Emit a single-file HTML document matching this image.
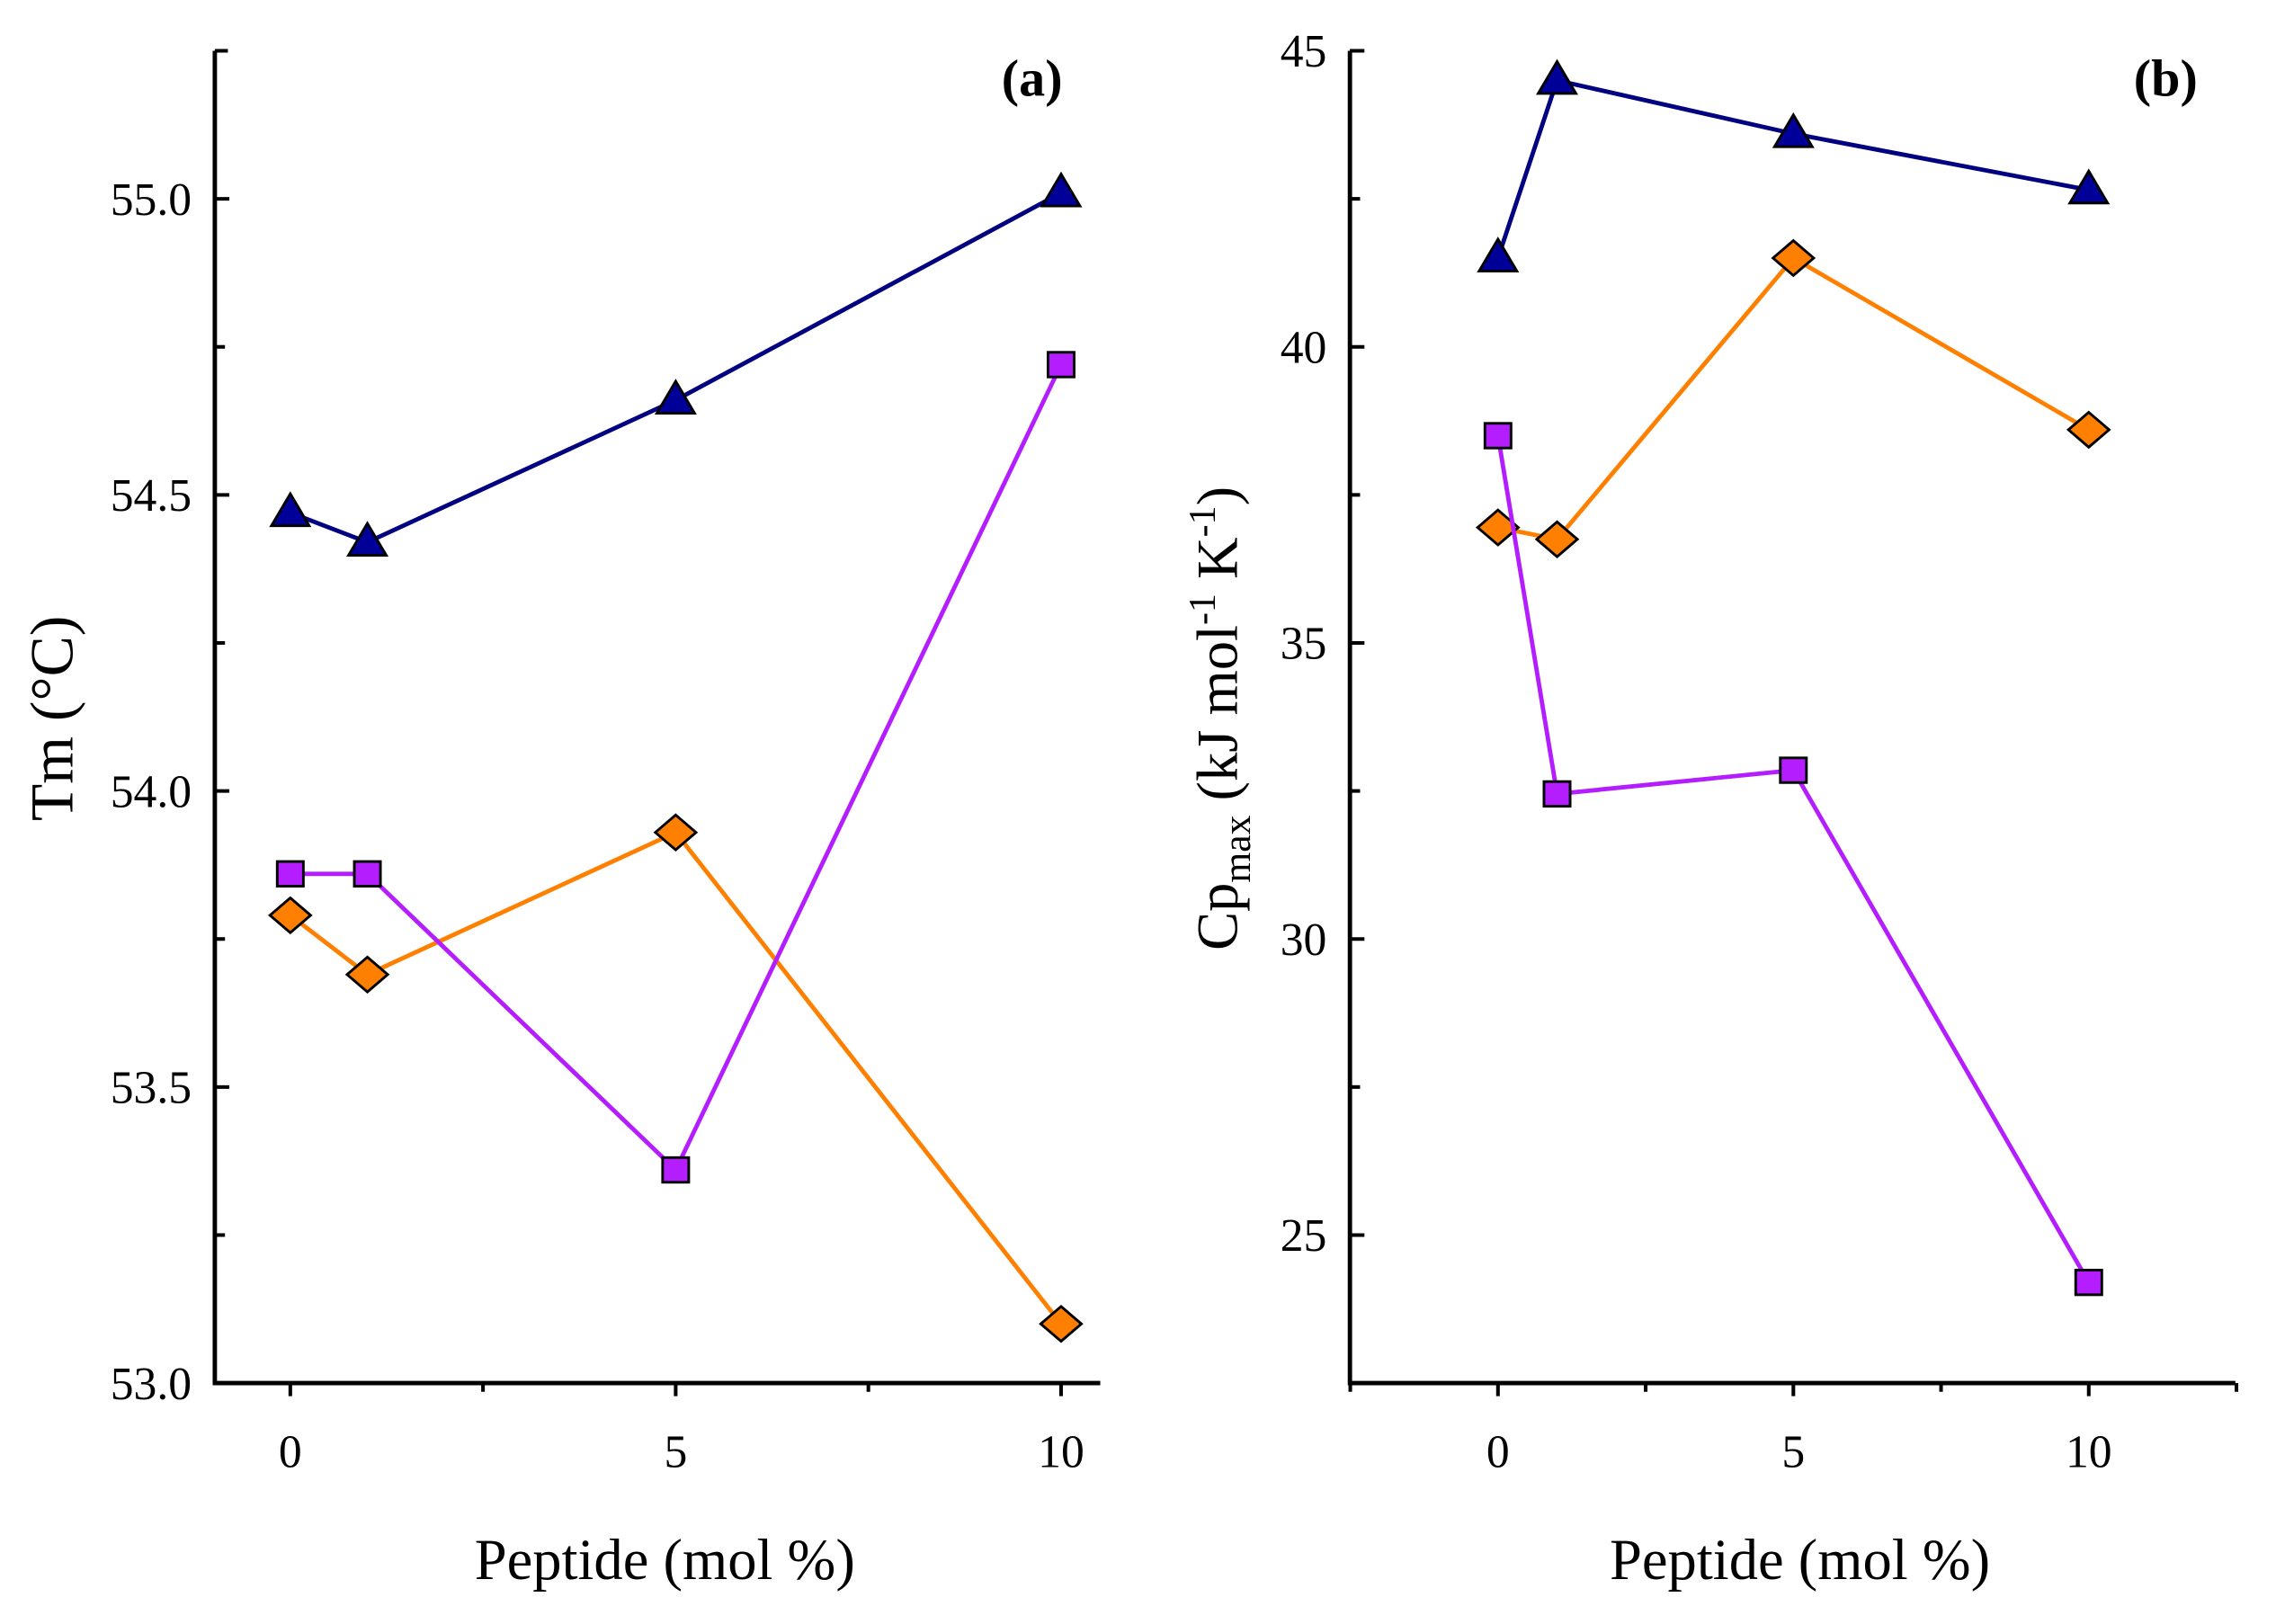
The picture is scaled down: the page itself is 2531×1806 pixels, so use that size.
<!DOCTYPE html>
<html><head><meta charset="utf-8"><style>
html,body{margin:0;padding:0;background:#fff;}
svg{display:block;font-family:"Liberation Serif",serif;}
</style></head><body>
<svg id="chart" width="2531" height="1806" viewBox="0 0 1568 1119" preserveAspectRatio="none" xmlns="http://www.w3.org/2000/svg"></svg>
<script>
const xCats=[0,1,5,10];
const aBlue=[54.47,54.42,54.66,55.01];
const aPurple=[53.86,53.86,53.36,54.72];
const aOrange=[53.79,53.69,53.93,53.10];
const bBlue=[41.5,44.5,43.6,42.65];
const bOrange=[36.95,36.75,41.5,38.6];
const bPurple=[38.5,32.45,32.85,24.2];
const aYTicks=[53.0,53.5,54.0,54.5,55.0];
const aYTickLabels=["53.0","53.5","54.0","54.5","55.0"];
const bYTicks=[25,30,35,40,45];
const bYTickLabels=["25","30","35","40","45"];
const xTicks=[0,5,10];
const xTickLabels=["0","5","10"];

const NS="http://www.w3.org/2000/svg";
const svg=document.getElementById('chart');
function el(t,a,p){const e=document.createElementNS(NS,t);for(const k in a)e.setAttribute(k,a[k]);(p||svg).appendChild(e);return e;}

function panel(cfg){
  const g=el('g',{});
  
  
  const X=v=>cfg.px0+(v-cfg.x0)*(cfg.px1-cfg.px0)/(cfg.x1-cfg.x0);
  const Y=v=>cfg.py0+(v-cfg.y0)*(cfg.py1-cfg.py0)/(cfg.y1-cfg.y0);
  const ax=el('path',{d:`M${cfg.left} ${cfg.top} H${cfg.left} V${cfg.bottom} H${cfg.right}`,fill:'none',stroke:'#000','stroke-width':3},g);
  
  
  el('line',{x1:cfg.left,y1:cfg.top,x2:cfg.left+9,y2:cfg.top,stroke:'#000','stroke-width':2.5},g);
  for(let v=cfg.yMinorStart;v<=cfg.yMax+1e-9;v+=cfg.yMinor){
    const major=cfg.yTicks.some(t=>Math.abs(t-v)<1e-6);
    el('line',{x1:cfg.left,x2:cfg.left+(major?10:7),y1:Y(v),y2:Y(v),stroke:'#000','stroke-width':2.5},g);
  }
  cfg.yTicks.forEach((v,i)=>{
    const t=el('text',{x:cfg.left-16,y:Y(v)+11,'text-anchor':'end','font-size':32},g);
    t.textContent=cfg.yLabels[i];
    
    
  });
  for(let v=cfg.xMinorStart;v<=cfg.xMax+1e-9;v+=2.5){
    const major=xTicks.some(t=>Math.abs(t-v)<1e-6);
    el('line',{x1:X(v),x2:X(v),y1:cfg.bottom,y2:cfg.bottom+(major?9:6),stroke:'#000','stroke-width':2.5},g);
  }
  xTicks.forEach((v,i)=>{
    const t=el('text',{x:X(v),y:cfg.bottom+58,'text-anchor':'middle','font-size':32},g);
    t.textContent=xTickLabels[i];
    
    
  });
  const xl=el('text',{x:(cfg.left+cfg.right)/2+5,y:1088,'text-anchor':'middle','font-size':40},g);
  xl.textContent='Peptide (mol %)';
  
  
  const pl=el('text',{x:cfg.right-26,y:66,'text-anchor':'end','font-size':36,'font-weight':'bold'},g);
  pl.textContent=cfg.tag;
  
  
  cfg.series.forEach(s=>{
    const pts=xCats.map((c,i)=>[X(c),Y(s.vals[i])]);
    const ln=el('polyline',{points:pts.map(p=>p.join(',')).join(' '),fill:'none',stroke:s.color,'stroke-width':3},g);
    
    
    pts.forEach(([x,y])=>{
      let m;
      if(s.shape==='tri') m=el('polygon',{points:`${x},${y-13} ${x+13},${y+9} ${x-13},${y+9}`},g);
      else if(s.shape==='sq') m=el('rect',{x:x-9,y:y-8.5,width:18,height:17},g);
      else m=el('polygon',{points:`${x},${y-12} ${x+14},${y} ${x},${y+12} ${x-14},${y}`},g);
      m.setAttribute('fill',s.fill);m.setAttribute('stroke','#000');m.setAttribute('stroke-width',1.8);
      
      
    });
  });
  return g;
}
const blue='#000080', blueF='#000099', orange='#FF8000', purple='#B41EFF';
panel({name:'panel-a',tag:'(a)',left:148,right:758,top:35,bottom:953,
  x0:0,x1:10,px0:200,px1:731,y0:53,y1:55,py0:953,py1:137,
  yTicks:aYTicks,yLabels:aYTickLabels,yMinorStart:53,yMinor:0.25,yMax:55.24,xMinorStart:0,xMax:10.5,
  series:[{name:'a-blue',vals:aBlue,color:blue,fill:blueF,shape:'tri'},
          {name:'a-orange',vals:aOrange,color:orange,fill:orange,shape:'dia'},
          {name:'a-purple',vals:aPurple,color:purple,fill:purple,shape:'sq'}]});
panel({name:'panel-b',tag:'(b)',left:930,right:1540,top:35,bottom:953,
  x0:0,x1:10,px0:1032,px1:1439,y0:25,y1:45,py0:851,py1:35,
  yTicks:bYTicks,yLabels:bYTickLabels,yMinorStart:25,yMinor:2.5,yMax:45,xMinorStart:-2.5,xMax:12.5,
  series:[{name:'b-blue',vals:bBlue,color:blue,fill:blueF,shape:'tri'},
          {name:'b-orange',vals:bOrange,color:orange,fill:orange,shape:'dia'},
          {name:'b-purple',vals:bPurple,color:purple,fill:purple,shape:'sq'}]});
const ta=el('text',{x:0,y:0,transform:'translate(50,495) rotate(-90)','text-anchor':'middle','font-size':42});
ta.textContent='Tm (°C)';


const tb=el('text',{x:0,y:0,transform:'translate(852,495) rotate(-90)','text-anchor':'middle','font-size':40});
tb.innerHTML='Cp<tspan font-size="27" dy="9">max</tspan><tspan dy="-9"> (kJ mol</tspan><tspan font-size="26" dy="-15">-1</tspan><tspan dy="15"> K</tspan><tspan font-size="26" dy="-15">-1</tspan><tspan dy="15">)</tspan>';


</script>
</body></html>
